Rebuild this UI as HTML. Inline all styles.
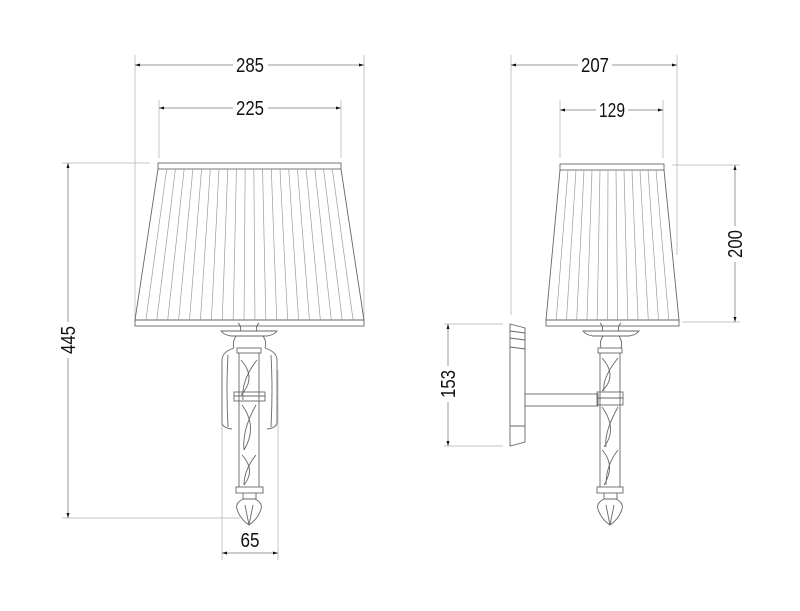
<!DOCTYPE html>
<html><head><meta charset="utf-8"><style>
html,body{margin:0;padding:0;background:#fff;width:800px;height:611px;overflow:hidden}
svg{display:block}
text{font-family:"Liberation Sans Narrow","Liberation Sans",sans-serif;font-size:20px;fill:#111}
</style></head><body>
<svg id="s" width="800" height="611" viewBox="0 0 800 611" xmlns="http://www.w3.org/2000/svg">
<defs>
<marker id="a" viewBox="0 0 10 10" refX="10" refY="5" markerWidth="15" markerHeight="5" markerUnits="userSpaceOnUse" orient="auto-start-reverse"><path d="M0,2 L10,5 L0,8 z" fill="#111"/></marker>
</defs>
<g stroke="#c4c4c4" stroke-width="1" fill="none">
<line x1="135" y1="55" x2="135" y2="322"/>
<line x1="364" y1="55" x2="364" y2="322"/>
<line x1="159" y1="100" x2="159" y2="158"/>
<line x1="341" y1="100" x2="341" y2="158"/>
<line x1="62" y1="163" x2="150" y2="163"/>
<line x1="62" y1="518" x2="240" y2="518"/>
<line x1="222" y1="370" x2="222" y2="560"/>
<line x1="278" y1="370" x2="278" y2="560"/>
<line x1="511" y1="55" x2="511" y2="315"/>
<line x1="677" y1="55" x2="677" y2="255"/>
<line x1="560" y1="100" x2="560" y2="158"/>
<line x1="663" y1="100" x2="663" y2="158"/>
<line x1="672" y1="165" x2="740" y2="165"/>
<line x1="682" y1="322" x2="740" y2="322"/>
<line x1="444" y1="324" x2="503" y2="324"/>
<line x1="444" y1="446" x2="503" y2="446"/>
</g>
<g stroke="#999" stroke-width="1" fill="none">
<line x1="135" y1="65" x2="233" y2="65" marker-start="url(#a)"/>
<line x1="268" y1="65" x2="364" y2="65" marker-end="url(#a)"/>
<line x1="159" y1="108" x2="233" y2="108" marker-start="url(#a)"/>
<line x1="268" y1="108" x2="341" y2="108" marker-end="url(#a)"/>
<line x1="68" y1="163" x2="68" y2="322" marker-start="url(#a)"/>
<line x1="68" y1="358" x2="68" y2="518" marker-end="url(#a)"/>
<line x1="222" y1="553" x2="278" y2="553" marker-start="url(#a)" marker-end="url(#a)"/>
<line x1="511" y1="65" x2="578" y2="65" marker-start="url(#a)"/>
<line x1="612" y1="65" x2="677" y2="65" marker-end="url(#a)"/>
<line x1="560" y1="110" x2="596" y2="110" marker-start="url(#a)"/>
<line x1="628" y1="110" x2="663" y2="110" marker-end="url(#a)"/>
<line x1="735" y1="165" x2="735" y2="226" marker-start="url(#a)"/>
<line x1="735" y1="262" x2="735" y2="322" marker-end="url(#a)"/>
<line x1="448" y1="324" x2="448" y2="366" marker-start="url(#a)"/>
<line x1="448" y1="402" x2="448" y2="446" marker-end="url(#a)"/>
</g>
<g text-anchor="middle">
<text x="250" y="72" textLength="28" lengthAdjust="spacingAndGlyphs">285</text>
<text x="250" y="115" textLength="28" lengthAdjust="spacingAndGlyphs">225</text>
<text x="595" y="72" textLength="28" lengthAdjust="spacingAndGlyphs">207</text>
<text x="612" y="117" textLength="26" lengthAdjust="spacingAndGlyphs">129</text>
<text x="250" y="547" textLength="19" lengthAdjust="spacingAndGlyphs">65</text>
<text transform="translate(75,340) rotate(-90)" textLength="28" lengthAdjust="spacingAndGlyphs">445</text>
<text transform="translate(742,244) rotate(-90)" textLength="28" lengthAdjust="spacingAndGlyphs">200</text>
<text transform="translate(455,384) rotate(-90)" textLength="28" lengthAdjust="spacingAndGlyphs">153</text>
</g>
<g id="d" stroke="#666" stroke-width="0.9" fill="none">
<rect x="158" y="163" width="183" height="6"/>
<path d="M158,169 L135,320 L364,320 L341,169"/>
<rect x="135" y="320" width="229" height="6"/>
<path d="M238,323 q4,4 2,8 M259,323 q-4,4 -2,8"/>
<path d="M221,331 h56 q-3,4 -10,5 h-36 q-7,-1 -10,-5z"/>
<path d="M236,336 q-4,6 -2,12 M263,336 q4,6 2,12"/>
<rect x="237" y="348" width="24" height="5"/>
<path d="M239,353 L239,487 M259,353 L259,487"/>
<path d="M234,348 q-12,4 -12,12 v62 q0,6 10,7 M265,348 q12,4 12,12 v62 q0,6 -10,7"/>
<path d="M228,355 q-2,35 0,72 M271,355 q2,35 0,72"/>
<rect x="234" y="392" width="31" height="9"/>
<line x1="234" y1="396" x2="265" y2="396"/>
<path d="M241,360 q16,18 0,35 M257,360 q-16,20 -14,40 M242,405 q16,22 2,45 M256,405 q-14,25 -12,45 M242,455 q14,15 2,30 M256,455 q-12,15 -12,30"/>
<rect x="236" y="487" width="27" height="6"/>
<path d="M243,493 v6 h13 v-6 M243,499 q-8,4 -6,10 q3,10 12,16 q9,-6 12,-16 q2,-6 -6,-10"/>
<path d="M245,505 q2,10 4,20 M253,505 q-2,10 -4,20"/>
<rect x="560" y="164" width="104" height="6"/>
<path d="M560,170 L546,320 L679,320 L664,170"/>
<rect x="546" y="320" width="133" height="6"/>
<path d="M510,324 L525,328 L525,442 L510,446 Z"/>
<path d="M510,331 l15,2 M510,338 l15,2 M510,347 l15,2 M525,426 h-15"/>
<rect x="525" y="394" width="73" height="12"/>
<path d="M600,323 q4,4 2,8 M621,323 q-4,4 -2,8"/>
<path d="M583,331 h56 q-3,4 -10,5 h-36 q-7,-1 -10,-5z"/>
<path d="M603,336 q-4,6 -2,12 M619,336 q4,6 2,12"/>
<rect x="598" y="348" width="24" height="5"/>
<path d="M600,353 L600,487 M620,353 L620,487"/>
<rect x="597" y="392" width="26" height="13"/>
<line x1="597" y1="398" x2="623" y2="398"/>
<path d="M602,358 q16,18 0,33 M618,358 q-16,20 -14,33 M602,407 q16,22 2,40 M618,407 q-14,25 -12,40 M602,450 q14,15 2,35 M618,450 q-12,15 -12,35"/>
<rect x="597" y="487" width="26" height="6"/>
<path d="M604,493 v6 h13 v-6 M604,499 q-8,4 -6,10 q3,10 12,16 q9,-6 12,-16 q2,-6 -6,-10"/>
<path d="M606,505 q2,10 4,20 M614,505 q-2,10 -4,20"/>
</g>
<g id="p" stroke="#9a9a9a" stroke-width="0.7"></g>
</svg>
<script>
var g=document.getElementById('p'),ns="http://www.w3.org/2000/svg";
function pleats(tx1,tx2,ty,bx1,bx2,by,n){for(var i=1;i<n;i++){var t=i/n;var l=document.createElementNS(ns,'line');l.setAttribute('x1',tx1+(tx2-tx1)*t);l.setAttribute('y1',ty);l.setAttribute('x2',bx1+(bx2-bx1)*t);l.setAttribute('y2',by);g.appendChild(l);}}
pleats(158,341,169,135,364,320,21);
pleats(560,664,170,546,679,320,13);
</script>
</body></html>
